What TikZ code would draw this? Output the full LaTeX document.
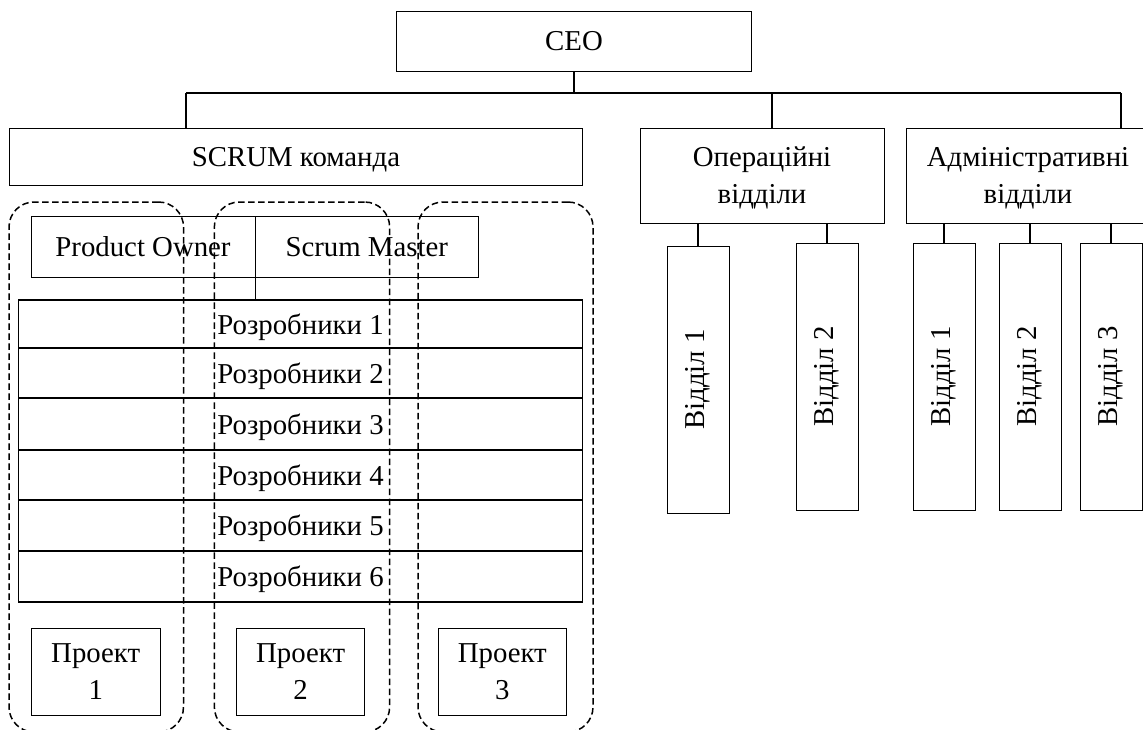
\documentclass[tikz,border=0pt]{standalone}
\usepackage{fontspec}
\setmainfont{Liberation Serif}
\usepackage{graphicx}
\begin{document}
\begin{tikzpicture}[x=1pt,y=-1pt,
  every node/.style={font=\fontsize{28.8}{37}\selectfont},
  box/.style={draw, line width=0.8pt, inner sep=0pt, align=center, text depth=0pt},
  devbox/.style={draw, line width=1.4pt, inner sep=0pt, minimum width=564pt, text depth=0pt},
  conn/.style={line width=1.4pt},
  group/.style={draw, dash pattern=on 6.5pt off 3.5pt, line width=1.5pt, rounded corners=25pt, inner sep=0pt}
]
\useasboundingbox (0,0) rectangle (1143,729);

% top level
\node[box, minimum width=355pt, minimum height=60pt] (ceo) at (574,41) {CEO};
\node[box, minimum width=573pt, minimum height=57pt] (scrum) at (296,156.5) {SCRUM команда};
\node[box, minimum width=244pt, minimum height=95pt] (ops) at (762,175.5) {Операційні\\відділи};
\node[box, minimum width=243pt, minimum height=95pt] (adm) at (1028,175.5) {Адміністративні\\відділи};

\coordinate (busL) at (186,93);
\coordinate (dOps) at (772,93);
\coordinate (busR) at (1121,93);
\draw[conn] (ceo.south) -- (ceo.south |- busL);
\draw[conn] (busL) -- (busR);
\draw[conn] (busL) -- (busL |- scrum.north);
\draw[conn] (dOps) -- (dOps |- ops.north);
\draw[conn] (busR) -- (busR |- adm.north);

% departments
\node[box, minimum width=62pt, minimum height=267pt] (op1) at (698,379.5) {\rotatebox{90}{Відділ 1}};
\node[box, minimum width=62pt, minimum height=267pt] (op2) at (827,376.5) {\rotatebox{90}{Відділ 2}};
\node[box, minimum width=62pt, minimum height=267pt] (ad1) at (944,376.5) {\rotatebox{90}{Відділ 1}};
\node[box, minimum width=62pt, minimum height=267pt] (ad2) at (1030,376.5) {\rotatebox{90}{Відділ 2}};
\node[box, minimum width=62pt, minimum height=267pt] (ad3) at (1111,376.5) {\rotatebox{90}{Відділ 3}};
\foreach \c/\p in {op1/ops, op2/ops, ad1/adm, ad2/adm, ad3/adm}
  \draw[conn] (\c.north) -- (\c.north |- \p.south);

% scrum team
\node[box, minimum width=224pt, minimum height=61pt] (po) at (143,246.5) {Product Owner};
\node[box, minimum width=223.4pt, minimum height=61pt] (sm) at (366.7,246.5) {Scrum Master};

\node[devbox, minimum height=48pt] (dev1) at (300.5,324) {Розробники 1};
\node[devbox, minimum height=50pt] (dev2) at (300.5,373) {Розробники 2};
\node[devbox, minimum height=52pt] (dev3) at (300.5,424) {Розробники 3};
\node[devbox, minimum height=50pt] (dev4) at (300.5,475) {Розробники 4};
\node[devbox, minimum height=51pt] (dev5) at (300.5,525.5) {Розробники 5};
\node[devbox, minimum height=51pt] (dev6) at (300.5,576.5) {Розробники 6};
\draw[conn] (po.south east) -- (po.south east |- dev1.north);

\node[box, minimum width=128.6pt, minimum height=86.7pt] (p1) at (95.7,671.7) {Проект\\1};
\node[box, minimum width=128.2pt, minimum height=86.7pt] (p2) at (300.6,671.7) {Проект\\2};
\node[box, minimum width=128.2pt, minimum height=86.7pt] (p3) at (502.3,671.7) {Проект\\3};

% project groups
\node[group, minimum width=174.5pt, minimum height=530pt] (g1) at (96.25,467) {};
\node[group, minimum width=175.3pt, minimum height=530pt] (g2) at (302,467) {};
\node[group, minimum width=175pt, minimum height=530pt] (g3) at (505.5,467) {};
\end{tikzpicture}
\end{document}
